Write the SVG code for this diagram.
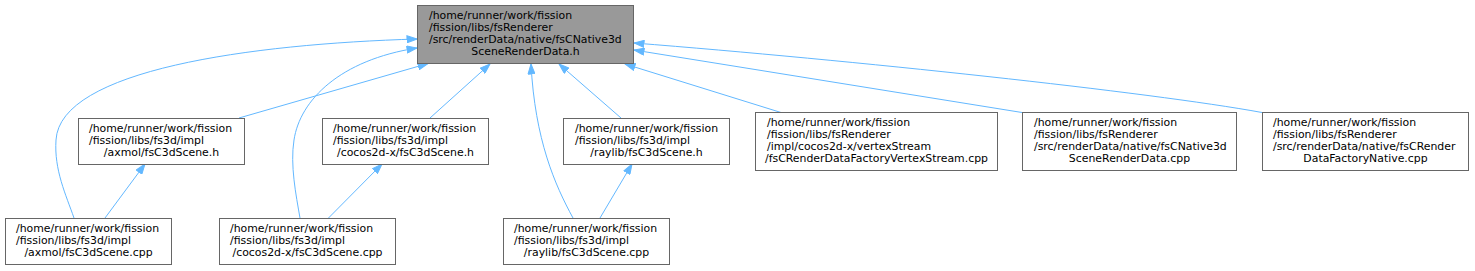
<svg xmlns="http://www.w3.org/2000/svg" width="1475" height="271" viewBox="0 0 1475 271">
<style>
.n rect{fill:#ffffff;stroke:#666666;stroke-width:1}
#main rect{fill:#999999}
text{font-family:"DejaVu Sans","Liberation Sans",sans-serif;font-size:10.9px;fill:#000000}
.c{text-anchor:middle}
.e path{fill:none;stroke:#63b8ff;stroke-width:1;marker-end:url(#ah)}
</style>
<defs>
<marker id="ah" markerUnits="userSpaceOnUse" markerWidth="11" markerHeight="8" refX="10.5" refY="4" orient="auto">
<path d="M0.5,0.5 L10.5,4 L0.5,7.5 z" fill="#63b8ff" stroke="#63b8ff" stroke-width="1"/>
</marker>
</defs>
<g class="e" id="edges">
<path d="M74,218 C66,195 54,170 56,140 C60,70 250,44 417,39"/>
<path d="M300,218 C296,195 290,165 294,140 C300,100 340,60 417,48"/>
<path d="M239,118 L428,63.5"/>
<path d="M430,118 L490,64"/>
<path d="M573,218 C555,185 535,140 531,64"/>
<path d="M621,118 L559,64"/>
<path d="M781,112.5 L625,64"/>
<path d="M1022,112.5 L634,50"/>
<path d="M1262,112.5 C1150,92 850,60 634,43"/>
<path d="M105,218 L145,164"/>
<path d="M328.5,218 L382,164"/>
<path d="M600,218 L632,164"/>
</g>
<g class="n" id="main">
<rect x="417.5" y="5.5" width="216" height="58"/>
<text x="429" y="19">/home/runner/work/fission</text>
<text x="429" y="31">/fission/libs/fsRenderer</text>
<text x="429" y="43">/src/renderData/native/fsCNative3d</text>
<text class="c" x="525.5" y="55">SceneRenderData.h</text>
</g>
<g class="n" id="axmol_h">
<rect x="78.5" y="118.5" width="166" height="46"/>
<text x="89" y="131.5">/home/runner/work/fission</text>
<text x="89" y="143.5">/fission/libs/fs3d/impl</text>
<text class="c" x="161.5" y="155.5">/axmol/fsC3dScene.h</text>
</g>
<g class="n" id="cocos_h">
<rect x="322.5" y="118.5" width="166" height="46"/>
<text x="333" y="131.5">/home/runner/work/fission</text>
<text x="333" y="143.5">/fission/libs/fs3d/impl</text>
<text class="c" x="405.5" y="155.5">/cocos2d-x/fsC3dScene.h</text>
</g>
<g class="n" id="raylib_h">
<rect x="563.5" y="118.5" width="166" height="46"/>
<text x="575" y="131.5">/home/runner/work/fission</text>
<text x="575" y="143.5">/fission/libs/fs3d/impl</text>
<text class="c" x="646.5" y="155.5">/raylib/fsC3dScene.h</text>
</g>
<g class="n" id="vertex_cpp">
<rect x="755.5" y="112.5" width="242" height="58"/>
<text x="767" y="126">/home/runner/work/fission</text>
<text x="767" y="138">/fission/libs/fsRenderer</text>
<text x="767" y="150">/impl/cocos2d-x/vertexStream</text>
<text class="c" x="876.5" y="162">/fsCRenderDataFactoryVertexStream.cpp</text>
</g>
<g class="n" id="native3d_cpp">
<rect x="1022.5" y="112.5" width="214" height="58"/>
<text x="1034" y="126">/home/runner/work/fission</text>
<text x="1034" y="138">/fission/libs/fsRenderer</text>
<text x="1034" y="150">/src/renderData/native/fsCNative3d</text>
<text class="c" x="1129.5" y="162">SceneRenderData.cpp</text>
</g>
<g class="n" id="factory_cpp">
<rect x="1262.5" y="112.5" width="206" height="58"/>
<text x="1273" y="126">/home/runner/work/fission</text>
<text x="1273" y="138">/fission/libs/fsRenderer</text>
<text x="1273" y="150">/src/renderData/native/fsCRender</text>
<text class="c" x="1365.5" y="162">DataFactoryNative.cpp</text>
</g>
<g class="n" id="axmol_cpp">
<rect x="5.5" y="218.5" width="166" height="46"/>
<text x="16" y="231.5">/home/runner/work/fission</text>
<text x="16" y="243.5">/fission/libs/fs3d/impl</text>
<text class="c" x="88.5" y="255.5">/axmol/fsC3dScene.cpp</text>
</g>
<g class="n" id="cocos_cpp">
<rect x="219.5" y="218.5" width="176" height="46"/>
<text x="230" y="231.5">/home/runner/work/fission</text>
<text x="230" y="243.5">/fission/libs/fs3d/impl</text>
<text class="c" x="307.5" y="255.5">/cocos2d-x/fsC3dScene.cpp</text>
</g>
<g class="n" id="raylib_cpp">
<rect x="503.5" y="218.5" width="166" height="46"/>
<text x="514" y="231.5">/home/runner/work/fission</text>
<text x="514" y="243.5">/fission/libs/fs3d/impl</text>
<text class="c" x="586.5" y="255.5">/raylib/fsC3dScene.cpp</text>
</g>
</svg>
